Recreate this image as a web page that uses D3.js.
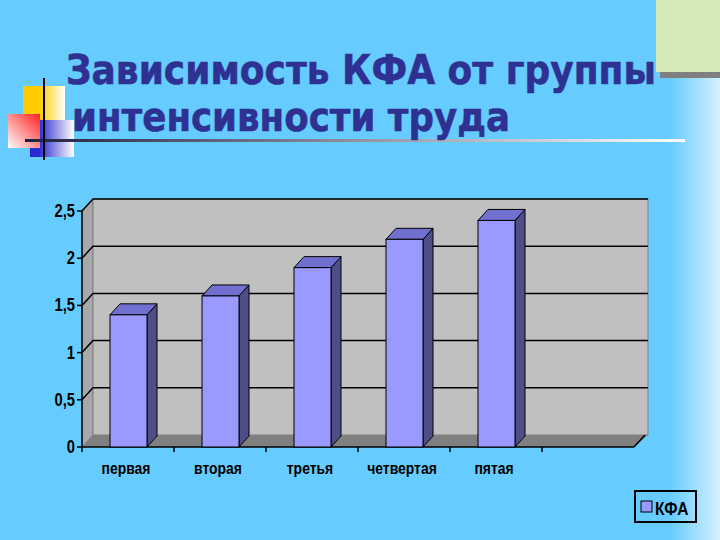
<!DOCTYPE html>
<html><head><meta charset="utf-8">
<script src="https://cdn.jsdelivr.net/npm/d3@7"></script>
<style>body{margin:0;overflow:hidden}</style>
</head><body>
<script>
const categories = ["первая","вторая","третья","четвертая","пятая",""];
const values = [1.4, 1.6, 1.9, 2.2, 2.4, null];
const yTicks = [0, 0.5, 1, 1.5, 2, 2.5];
const seriesName = "КФА";
const titleLines = ["Зависимость КФА от группы","интенсивности труда"];

const W=720,H=540;
const svg=d3.select("body").append("svg").attr("width",W).attr("height",H);
const defs=svg.append("defs");
const bg=defs.append("linearGradient").attr("id","bg").attr("x1","0").attr("x2","1");
bg.append("stop").attr("offset","0.93").attr("stop-color","#66ccff");
bg.append("stop").attr("offset","1").attr("stop-color","#d4f0ff");
const ul=defs.append("linearGradient").attr("id","ul").attr("x1","0").attr("x2","1");
ul.append("stop").attr("offset","0").attr("stop-color","#202040");
ul.append("stop").attr("offset","1").attr("stop-color","#ffffff");
const rg=defs.append("linearGradient").attr("id","rg").attr("x1","1").attr("y1","0").attr("x2","0").attr("y2","1");
rg.append("stop").attr("offset","0").attr("stop-color","#ff2020");
rg.append("stop").attr("offset","1").attr("stop-color","#ffffff");
const bgr=defs.append("linearGradient").attr("id","bgr").attr("x1","0").attr("x2","1");
bgr.append("stop").attr("offset","0.2").attr("stop-color","#2a2ad0");
bgr.append("stop").attr("offset","1").attr("stop-color","#ffffff");
const yg=defs.append("linearGradient").attr("id","yg").attr("x1","0").attr("x2","1");
yg.append("stop").attr("offset","0.4").attr("stop-color","#ffcc00");
yg.append("stop").attr("offset","1").attr("stop-color","#ffffff");

svg.append("rect").attr("width",W).attr("height",H).attr("fill","url(#bg)");
svg.append("rect").attr("x",660).attr("y",4).attr("width",60).attr("height",74).attr("fill","#808080");
svg.append("rect").attr("x",656).attr("y",0).attr("width",64).attr("height",72).attr("fill","#d4e8b8");
svg.append("rect").attr("x",23).attr("y",86).attr("width",42).attr("height",40).attr("fill","url(#yg)");
svg.append("rect").attr("x",30).attr("y",120).attr("width",44).attr("height",37).attr("fill","url(#bgr)");
svg.append("rect").attr("x",8).attr("y",114).attr("width",32).attr("height",34).attr("fill","url(#rg)");
svg.append("rect").attr("x",25).attr("y",139).attr("width",660).attr("height",3).attr("fill","url(#ul)");
svg.append("line").attr("x1",44).attr("x2",44).attr("y1",78).attr("y2",160).attr("stroke","#000").attr("stroke-width",2);
svg.append("g").selectAll("text").data(titleLines).join("text")
 .attr("x",(d,i)=>i?72:66).attr("y",(d,i)=>84+i*47)
 .attr("font-family","DejaVu Sans").attr("font-weight","bold").attr("font-size",41)
 .attr("fill","#2e3192").attr("stroke","#2e3192").attr("stroke-width",0.6)
 .attr("textLength",(d,i)=>i?438:590).attr("lengthAdjust","spacingAndGlyphs").text(d=>d);

const FF="Liberation Sans";
function narrow(sel,cx,cy){ // horizontally condense text around anchor
 sel.attr("transform",`translate(${cx},${cy}) scale(0.82,1)`).attr("x",0).attr("y",0);
}
const x0=82,x1=634,y0=447,dx=11,dy=-12;
const x=d3.scaleBand().domain(categories.map((c,i)=>i)).range([x0,x1]);
const y=d3.scaleLinear().domain([0,2.5]).range([y0,211]);
const g=svg.append("g");
g.append("path").attr("d",`M${x0},${y(0)}L${x0+dx},${y(0)+dy}L${x0+dx},${y(2.5)+dy}L${x0},${y(2.5)}Z`).attr("fill","#a8a8a8").attr("stroke","#808080");
g.append("rect").attr("x",x0+dx).attr("y",y(2.5)+dy).attr("width",x1-x0+3).attr("height",y(0)-y(2.5)).attr("fill","#c0c0c0").attr("stroke","#808080");
g.append("path").attr("d",`M${x0},${y0}L${x0+dx},${y0+dy}L${x1+dx+3},${y0+dy}L${x1},${y0}Z`).attr("fill","#808080");
yTicks.filter(t=>t>0).forEach(t=>{
 g.append("path").attr("d",`M${x0},${y(t)}L${x0+dx},${y(t)+dy}L${x1+dx+3},${y(t)+dy}`).attr("fill","none").attr("stroke","#000").attr("stroke-width",1.5);
});
g.append("line").attr("x1",x0).attr("x2",x0).attr("y1",y0).attr("y2",y(2.5)).attr("stroke","#000").attr("stroke-width",1.5);
g.append("line").attr("x1",x0).attr("x2",x1).attr("y1",y0).attr("y2",y0).attr("stroke","#000").attr("stroke-width",1.5);
g.append("line").attr("x1",x1).attr("x2",x1+dx).attr("y1",y0).attr("y2",y0+dy).attr("stroke","#000").attr("stroke-width",1.5);
yTicks.forEach(t=>{
 g.append("line").attr("x1",x0-5).attr("x2",x0).attr("y1",y(t)).attr("y2",y(t)).attr("stroke","#000").attr("stroke-width",1.5);
 g.append("text").attr("text-anchor","end").attr("font-family",FF).attr("font-weight","bold").attr("font-size",18).text(String(t).replace(".",",")).call(narrow,x0-7,y(t)+6);
});
categories.forEach((c,i)=>{
 const xs=x(i);
 g.append("line").attr("x1",xs).attr("x2",xs).attr("y1",y0).attr("y2",y0+5).attr("stroke","#000").attr("stroke-width",1.5);
 if(c) g.append("text").attr("text-anchor","middle").attr("font-family",FF).attr("font-weight","bold").attr("font-size",17).text(c).call(narrow,xs+x.bandwidth()/2-2,y0+27);
});
const bw=37, bdx=10, bdy=-11;
values.forEach((v,i)=>{
 if(v==null) return;
 const bx=x(i)+x.bandwidth()/2-18, top=y(v);
 g.append("path").attr("d",`M${bx+bw},${y0}L${bx+bw+bdx},${y0+bdy}L${bx+bw+bdx},${top+bdy}L${bx+bw},${top}Z`).attr("fill","#4f4f88").attr("stroke","#000");
 g.append("path").attr("d",`M${bx},${top}L${bx+bdx},${top+bdy}L${bx+bw+bdx},${top+bdy}L${bx+bw},${top}Z`).attr("fill","#7070d0").attr("stroke","#000");
 g.append("rect").attr("x",bx).attr("y",top).attr("width",bw).attr("height",y0-top).attr("fill","#9999ff").attr("stroke","#000");
});
svg.append("rect").attr("x",635).attr("y",491).attr("width",61).attr("height",31).attr("fill","none").attr("stroke","#000").attr("stroke-width",2);
svg.append("rect").attr("x",641).attr("y",501).attr("width",11).attr("height",11).attr("fill","#9999ff").attr("stroke","#000");
svg.append("text").attr("font-family",FF).attr("font-weight","bold").attr("font-size",19).text(seriesName).call(narrow,655,515);
</script>
</body></html>
